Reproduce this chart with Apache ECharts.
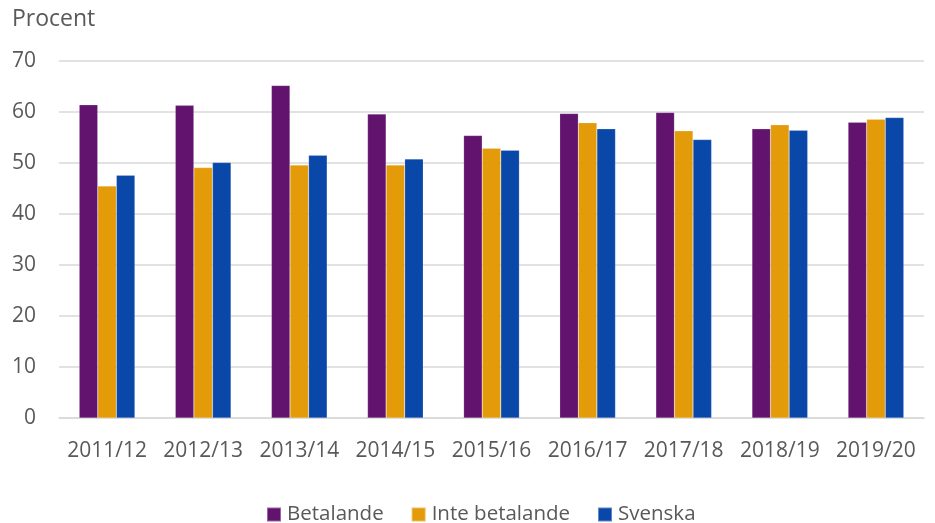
<!DOCTYPE html>
<html>
<head>
<meta charset="utf-8">
<script src="https://cdn.jsdelivr.net/npm/echarts@6/dist/echarts.min.js"></script>
<style>
  html, body { margin: 0; padding: 0; background: #fff; }
  #chart { width: 935px; height: 523px; }
</style>
</head>
<body>
<div id="chart"></div>
<script>
const categories = ['2011/12', '2012/13', '2013/14', '2014/15', '2015/16', '2016/17', '2017/18', '2018/19', '2019/20']
const betalande = [61.4, 61.3, 65.2, 59.6, 55.4, 59.7, 59.9, 56.7, 58.0]
const inteBetalande = [45.5, 49.1, 49.6, 49.6, 52.9, 57.9, 56.3, 57.5, 58.6]
const svenska = [47.6, 50.1, 51.5, 50.8, 52.5, 56.7, 54.6, 56.4, 58.9]

const textColor = '#595959'
const font = 'Open Sans'

const chart = echarts.init(document.getElementById('chart'))

const bar = (name, data, color) => ({
  name,
  type: 'bar',
  data,
  barGap: 0,
  barCategoryGap: '42%',
  itemStyle: { color, borderColor: 'rgba(255,255,255,0.35)', borderWidth: 0.5 }
})

chart.setOption({
  animation: false,
  textStyle: { fontFamily: font, color: textColor },
  grid: { left: 59, right: 11, top: 61, bottom: 105 },
  title: {
    text: 'Procent',
    left: 7,
    top: 3,
    textStyle: { fontFamily: font, fontSize: 23, fontWeight: 'normal', color: textColor }
  },
  legend: {
    data: ['Betalande', 'Inte betalande', 'Svenska'],
    top: 499,
    left: 261,
    itemWidth: 14,
    itemHeight: 14,
    itemGap: 27,
    icon: 'rect',
    textStyle: { fontFamily: font, fontSize: 20.5, color: textColor, padding: [0, 0, 0, 1] }
  },
  xAxis: {
    type: 'category',
    data: categories,
    axisLine: { lineStyle: { color: '#d9d9d9', width: 1.5 } },
    axisTick: { show: false },
    axisLabel: { interval: 0, fontFamily: font, fontSize: 21, color: textColor, margin: 23 }
  },
  yAxis: {
    type: 'value',
    min: 0,
    max: 70,
    interval: 10,
    axisLine: { show: false },
    axisTick: { show: false },
    splitLine: { lineStyle: { color: '#d9d9d9', width: 1.5 } },
    axisLabel: { fontFamily: font, fontSize: 21, color: textColor, margin: 23 }
  },
  series: [
    bar('Betalande', betalande, '#62136E'),
    bar('Inte betalande', inteBetalande, '#E39B0A'),
    bar('Svenska', svenska, '#0947A9')
  ]
})
</script>
</body>
</html>
